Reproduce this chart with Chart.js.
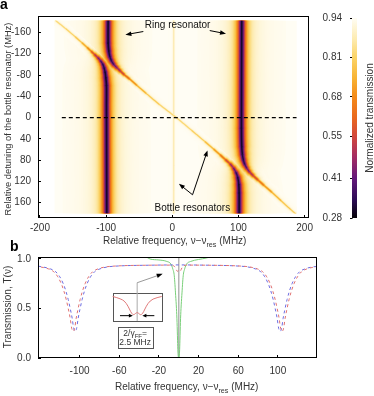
<!DOCTYPE html>
<html>
<head>
<meta charset="utf-8">
<script src="https://cdn.jsdelivr.net/npm/chart.js@4.4.1/dist/chart.umd.min.js"></script>
<style>
  body { margin: 0; background: #fff; }
  #fig { position: relative; width: 374px; height: 396px; overflow: hidden; }
  #fig canvas { position: absolute; }
</style>
</head>
<body>
<div id="fig">
  <canvas id="chartA" width="320" height="250" style="left:0;top:0"></canvas>
  <canvas id="chartC" width="56" height="240" style="left:318px;top:0"></canvas>
  <canvas id="chartB" width="320" height="160" style="left:0;top:236px"></canvas>
</div>
<script>
const FONT = '"Liberation Sans", Arial, sans-serif';
const TXT = '#333';

// ---------- panel a: map of transmission ----------
const xTicksA = [-200, -100, 0, 100, 200];
const yTicksA = [-160, -120, -80, -40, 0, 40, 80, 120, 160];
const cbTicks = [0.28, 0.41, 0.55, 0.68, 0.81, 0.94];
const baseT = 0.94;               // transmission far from any resonance
const heatX = [-178, 188];        // extent of the measured map (MHz)
const heatY = [-182, 180];

// resonance traces: [frequency, detuning, transmission at the dip, half width (MHz)]
const branchLL = [
  [-176, -182, 0.8, 0.8], [-160, -166, 0.79, 0.8], [-146, -151, 0.77, 0.9], [-136, -140, 0.72, 1.05],
  [-128, -131, 0.66, 1.3], [-122, -124, 0.58, 1.6], [-117, -118, 0.5, 2.1], [-112, -112, 0.42, 2.7],
  [-108, -106, 0.36, 3.4], [-105, -100, 0.32, 4.1], [-103, -93, 0.3, 4.8], [-101.5, -85, 0.29, 5.3],
  [-100.5, -75, 0.28, 5.8], [-99.5, -60, 0.28, 6], [-99.5, -20, 0.28, 6], [-99, 185, 0.28, 6]
];
const branchMid = [
  [-97, -185, 0.28, 6], [-97, -140, 0.28, 6], [-96, -125, 0.28, 5.8], [-94.5, -115, 0.29, 5.2],
  [-92, -107, 0.31, 4.5], [-88.5, -100, 0.35, 3.7], [-84, -94, 0.4, 2.9], [-79, -88, 0.46, 2.2],
  [-73, -81, 0.53, 1.6], [-65, -73, 0.6, 1.3], [-54, -61, 0.67, 1.05], [-40, -46, 0.73, 0.95],
  [-20, -25, 0.78, 0.8], [6, 0, 0.79, 0.8], [30, 25, 0.79, 0.8], [50, 46, 0.75, 0.95],
  [63, 60, 0.69, 1.1], [73, 71, 0.62, 1.4], [81, 80, 0.55, 1.8], [88, 88, 0.47, 2.4],
  [93, 96, 0.4, 3.1], [96.5, 104, 0.34, 3.9], [99, 113, 0.3, 4.9], [100.5, 126, 0.28, 5.6],
  [101, 142, 0.28, 6], [101, 185, 0.28, 6]
];
const branchUR = [
  [105, -185, 0.28, 6], [104.5, 20, 0.28, 6], [105, 55, 0.28, 5.9], [106, 70, 0.29, 5.4],
  [107.5, 80, 0.3, 4.9], [109.5, 88, 0.33, 4.2], [112.5, 95, 0.37, 3.5], [116.5, 102, 0.42, 2.8],
  [122, 109, 0.48, 2.2], [129, 117, 0.55, 1.7], [138, 127, 0.62, 1.4], [150, 140, 0.68, 1.1],
  [164, 156, 0.73, 0.95], [178, 172, 0.76, 0.9], [190, 185, 0.78, 0.8]
];
const lineZero = [[2, -185, 0.86, 0.7], [2, 185, 0.86, 0.7]];
const dashedX = [-167, 189];

// ---------- panel b: transmission spectra ----------
const xTicksB = [-100, -60, -20, 20, 60, 100];
const yTicksB = [0, 0.5, 1.0];
const blueX = [-142, -137.5, -129.5, -124, -120, -116.5, -114, -111.5, -109.5, -107.5, -106, -104.5, -103, -101.5, -99.5, -97.5, -95, -92.5, -89, -85, -79.5, -71.5, -59.5, -30, 0, 30, 57.3, 69.3, 77.3, 82.8, 86.8, 90.3, 92.8, 95.3, 97.3, 99.3, 100.8, 102.3, 103.8, 105.3, 107.3, 109.3, 111.8, 114.3, 117.8, 121.8, 127.3, 135.3, 139.5];
const blueT = [0.928, 0.92, 0.90, 0.87, 0.82, 0.75, 0.68, 0.59, 0.50, 0.40, 0.30, 0.27, 0.30, 0.40, 0.50, 0.59, 0.68, 0.75, 0.82, 0.87, 0.90, 0.92, 0.93, 0.937, 0.94, 0.937, 0.93, 0.92, 0.90, 0.87, 0.82, 0.75, 0.68, 0.59, 0.50, 0.40, 0.30, 0.27, 0.30, 0.40, 0.50, 0.59, 0.68, 0.75, 0.82, 0.87, 0.90, 0.92, 0.925];
const redX = [-142, -139.5, -131.5, -126, -122, -118.5, -116, -113.5, -111.5, -109.5, -108, -106.5, -105, -103.5, -101.5, -99.5, -97, -94.5, -91, -87, -81.5, -73.5, -61.5, -30, -8, -5, -3.5, -2.5, -1.8, -1.1, -0.5, 0, 0.5, 1.1, 1.8, 2.5, 3.5, 5, 8, 30, 59.3, 71.3, 79.3, 84.8, 88.8, 92.3, 94.8, 97.3, 99.3, 101.3, 102.8, 104.3, 105.8, 107.3, 109.3, 111.3, 113.8, 116.3, 119.8, 123.8, 129.3, 137.3, 139.5];
const redT = [0.927, 0.92, 0.90, 0.87, 0.82, 0.75, 0.68, 0.59, 0.50, 0.40, 0.30, 0.27, 0.30, 0.40, 0.50, 0.59, 0.68, 0.75, 0.82, 0.87, 0.90, 0.92, 0.93, 0.937, 0.938, 0.93, 0.915, 0.895, 0.88, 0.875, 0.881, 0.884, 0.881, 0.875, 0.88, 0.895, 0.915, 0.93, 0.938, 0.937, 0.93, 0.92, 0.90, 0.87, 0.82, 0.75, 0.68, 0.59, 0.50, 0.40, 0.30, 0.27, 0.30, 0.40, 0.50, 0.59, 0.68, 0.75, 0.82, 0.87, 0.90, 0.92, 0.926];
const greenX = [-34, -29, -20, -12, -8, -6, -4.5, -3.1, -2.3, -1.7, -1.2, -0.8, 0, 0.8, 1.2, 1.7, 2.3, 3.1, 4.5, 6, 8, 12, 20, 28, 34];
const greenT = [1.03, 1.0, 0.99, 0.975, 0.95, 0.9, 0.83, 0.63, 0.5, 0.36, 0.18, 0.06, 0, 0.06, 0.18, 0.36, 0.5, 0.63, 0.83, 0.9, 0.95, 0.975, 0.995, 1.01, 1.03];
const insetRangeX = [-8, 8];
const insetRangeT = [0.855, 0.95];

// colour map of the transmission scale
const cmapT = [0.28, 0.34, 0.41, 0.48, 0.55, 0.61, 0.68, 0.74, 0.81, 0.87, 0.94];
const cmapRGB = [[5, 2, 8], [45, 12, 85], [100, 25, 122], [163, 44, 100], [210, 72, 60], [233, 104, 31],
  [244, 139, 26], [248, 178, 50], [251, 212, 104], [253, 235, 176], [255, 253, 244]];
function tColor(t) {
  let i = 1;
  while (i < cmapT.length - 1 && t > cmapT[i]) i++;
  let k = (t - cmapT[i - 1]) / (cmapT[i] - cmapT[i - 1]);
  k = Math.max(0, Math.min(1, k));
  const a = cmapRGB[i - 1], b = cmapRGB[i];
  return 'rgb(' + a.map((v, j) => Math.round(v + (b[j] - v) * k)).join(',') + ')';
}

// helpers
function label(ctx, text, x, y, o = {}) {
  ctx.save();
  ctx.translate(x, y);
  if (o.rot) ctx.rotate(o.rot);
  ctx.font = (o.bold ? 'bold ' : '') + (o.size || 10) + 'px ' + FONT;
  ctx.fillStyle = o.color || TXT;
  ctx.textAlign = o.align || 'center';
  ctx.textBaseline = o.base || 'middle';
  ctx.fillText(text, 0, 0);
  ctx.restore();
}
function subText(ctx, parts, x, y, size, align) {
  ctx.save();
  ctx.fillStyle = TXT;
  ctx.textBaseline = 'alphabetic';
  ctx.textAlign = 'left';
  let w = 0;
  parts.forEach(p => { ctx.font = (p.sub ? size * 0.72 : size) + 'px ' + FONT; w += ctx.measureText(p.t).width; });
  let cx = align === 'center' ? x - w / 2 : x;
  parts.forEach(p => {
    ctx.font = (p.sub ? size * 0.72 : size) + 'px ' + FONT;
    ctx.fillText(p.t, cx, p.sub ? y + size * 0.28 : y);
    cx += ctx.measureText(p.t).width;
  });
  ctx.restore();
}
function arrow(ctx, x1, y1, x2, y2, color, len = 6, wid = 2.3) {
  const a = Math.atan2(y2 - y1, x2 - x1), c = Math.cos(a), s = Math.sin(a);
  ctx.save();
  ctx.strokeStyle = color; ctx.lineWidth = 1;
  ctx.beginPath(); ctx.moveTo(x1, y1); ctx.lineTo(x2 - c * len * 0.7, y2 - s * len * 0.7); ctx.stroke();
  ctx.fillStyle = '#000';
  ctx.beginPath();
  ctx.moveTo(x2, y2);
  ctx.lineTo(x2 - c * len - s * wid, y2 - s * len + c * wid);
  ctx.lineTo(x2 - c * len + s * wid, y2 - s * len - c * wid);
  ctx.closePath(); ctx.fill();
  ctx.restore();
}
function frame(ctx, area) {
  ctx.save();
  ctx.strokeStyle = '#000'; ctx.lineWidth = 1;
  ctx.strokeRect(Math.round(area.left) + 0.5, Math.round(area.top) + 0.5,
    Math.round(area.right - area.left) - 1, Math.round(area.bottom - area.top) - 1);
  ctx.restore();
}
const fixedTicks = arr => s => { s.ticks = arr.map(v => ({ value: v })); };

// ---------- chart a ----------
// each trace is drawn as nested bands, from the faint wings to the dark centre
const glowLevels = [];
for (let i = 0; i < 32; i++) glowLevels.push(0.008 * Math.pow(0.96 / 0.008, i / 31));
const curvesA = [branchLL, branchMid, branchUR, lineZero];
const datasetsA = [];
glowLevels.forEach((f, k) => {
  const half = Math.sqrt(1 / f - 1);
  curvesA.forEach(curve => {
    datasetsA.push({
      data: curve.map(p => ({ x: p[0], y: p[1] })),
      showLine: true, pointRadius: 0, tension: 0.35,
      borderCapStyle: 'round', borderJoinStyle: 'round',
      borderWidth: 1, borderColor: tColor(baseT),
      order: glowLevels.length - k + 1,
      segment: {
        borderColor: c => {
          const t = (curve[c.p0DataIndex][2] + curve[c.p1DataIndex][2]) / 2;
          return tColor(baseT - f * (baseT - t));
        },
        borderWidth: c => {
          const sx = c.chart.scales.x;
          const ppm = Math.abs(sx.getPixelForValue(1) - sx.getPixelForValue(0));
          const g = (curve[c.p0DataIndex][3] + curve[c.p1DataIndex][3]) / 2;
          return Math.max(0.35, 2 * half * g * ppm);
        }
      }
    });
  });
});
datasetsA.push({
  data: dashedX.map(x => ({ x, y: 0 })), showLine: true, pointRadius: 0,
  borderColor: '#000', borderWidth: 1.3, borderDash: [4, 3], order: 0
});

const panelA = {
  id: 'panelA',
  beforeDatasetsDraw(chart) {
    const { ctx, scales: { x, y } } = chart;
    const l = x.getPixelForValue(heatX[0]), r = x.getPixelForValue(heatX[1]);
    const t = y.getPixelForValue(heatY[0]), b = y.getPixelForValue(heatY[1]);
    ctx.save();
    ctx.fillStyle = tColor(baseT);
    ctx.fillRect(l, t, r - l, b - t);
    ctx.beginPath(); ctx.rect(l, t, r - l, b - t); ctx.clip();
  },
  afterDatasetsDraw(chart) {
    const { ctx, chartArea, scales: { x, y } } = chart;
    ctx.restore();
    frame(ctx, chartArea);
    const P = (a, b) => [x.getPixelForValue(a), y.getPixelForValue(b)];
    // annotations
    let p = P(-41.5, -172.8);
    label(ctx, 'Ring resonator', p[0], p[1], { align: 'left', color: '#111' });
    [[-43.8, -161.8, -70.9, -155.8], [56.6, -163.6, 81.2, -157.6]].forEach(a => {
      const s = P(a[0], a[1]), e = P(a[2], a[3]);
      arrow(ctx, s[0], s[1], e[0], e[1], '#000');
    });
    p = P(-26.8, 170);
    label(ctx, 'Bottle resonators', p[0], p[1], { align: 'left', color: '#111' });
    [[30.6, 145.3, 10, 124.7], [30.6, 145.3, 53.2, 61.8]].forEach(a => {
      const s = P(a[0], a[1]), e = P(a[2], a[3]);
      arrow(ctx, s[0], s[1], e[0], e[1], '#000');
    });
    // titles
    subText(ctx, [{ t: 'Relative frequency, ν−ν' }, { t: 'res', sub: true }, { t: ' (MHz)' }], 103, 244, 10);
    label(ctx, 'Relative detuning of the bottle resonator (MHz)', 8, 119, { rot: -Math.PI / 2, size: 9.3 });
    label(ctx, 'a', 0, 9, { bold: true, size: 14, align: 'left', base: 'alphabetic', color: '#000' });
  }
};

new Chart(document.getElementById('chartA'), {
  type: 'scatter',
  data: { datasets: datasetsA },
  options: {
    responsive: false, animation: false, devicePixelRatio: 1, events: [],
    layout: { padding: { top: 10, right: 3, left: 0, bottom: 0 } },
    plugins: { legend: { display: false }, tooltip: { enabled: false } },
    scales: {
      x: {
        type: 'linear', min: -203, max: 207,
        afterFit: s => { s.height = 32; },
        afterBuildTicks: fixedTicks(xTicksA),
        grid: { drawOnChartArea: false, tickLength: -3, color: '#000' },
        border: { display: false },
        ticks: { padding: 7, color: TXT, font: { family: FONT, size: 10 } }
      },
      y: {
        type: 'linear', reverse: true, min: -191, max: 189,
        afterFit: s => { s.width = 38; },
        afterBuildTicks: fixedTicks(yTicksA),
        grid: { drawOnChartArea: false, tickLength: -3, color: '#000' },
        border: { display: false },
        ticks: { padding: 10, color: TXT, font: { family: FONT, size: 10 } }
      }
    }
  },
  plugins: [panelA]
});

// ---------- colour bar ----------
new Chart(document.getElementById('chartC'), {
  type: 'bar',
  data: {
    labels: [''],
    datasets: [{
      data: [[cbTicks[0], cbTicks[cbTicks.length - 1]]],
      barPercentage: 1, categoryPercentage: 1, borderWidth: 0,
      backgroundColor: c => {
        const { ctx, chartArea, scales } = c.chart;
        if (!chartArea) return '#fff';
        const y0 = scales.y.getPixelForValue(cmapT[0]);
        const y1 = scales.y.getPixelForValue(cmapT[cmapT.length - 1]);
        const g = ctx.createLinearGradient(0, y0, 0, y1);
        cmapT.forEach((t, i) => g.addColorStop((t - cmapT[0]) / (cmapT[cmapT.length - 1] - cmapT[0]), 'rgb(' + cmapRGB[i].join(',') + ')'));
        return g;
      }
    }]
  },
  options: {
    responsive: false, animation: false, devicePixelRatio: 1, events: [],
    layout: { padding: { top: 18, bottom: 22, right: 17, left: 0 } },
    plugins: { legend: { display: false }, tooltip: { enabled: false } },
    scales: {
      x: { display: false },
      y: {
        min: 0.28, max: 0.94,
        afterFit: s => { s.width = 34; },
        afterBuildTicks: fixedTicks(cbTicks),
        grid: { drawOnChartArea: false, tickLength: 2, color: '#000' },
        border: { color: '#555', width: 0.8 },
        ticks: { padding: 8, color: TXT, font: { family: FONT, size: 10 }, callback: v => v.toFixed(2) }
      }
    }
  },
  plugins: [{
    id: 'cbTitle',
    afterDraw(chart) {
      label(chart.ctx, 'Normalized transmission', 52, 118, { rot: -Math.PI / 2 });
    }
  }]
});

// ---------- chart b ----------
const panelB = {
  id: 'panelB',
  afterDatasetsDraw(chart) {
    const { ctx, chartArea, scales: { x, y } } = chart;
    frame(ctx, chartArea);
    const P = (a, b) => [x.getPixelForValue(a), y.getPixelForValue(b)];

    // pointer from the inset to the split dip
    const top = P(-42, 0.76), tip = P(-16.2, 0.85);
    arrow(ctx, top[0], top[1], tip[0], tip[1], '#999', 6, 2.2);

    // inset with the magnified doublet
    const b0 = P(-66.7, 0.657), b1 = P(-17.2, 0.374);
    ctx.save();
    ctx.fillStyle = '#fff';
    ctx.fillRect(b0[0], b0[1], b1[0] - b0[0], b1[1] - b0[1]);
    ctx.strokeStyle = '#555'; ctx.lineWidth = 1;
    ctx.strokeRect(Math.round(b0[0]) + 0.5, Math.round(b0[1]) + 0.5, Math.round(b1[0] - b0[0]), Math.round(b1[1] - b0[1]));
    const ix = v => b0[0] + (v - insetRangeX[0]) / (insetRangeX[1] - insetRangeX[0]) * (b1[0] - b0[0]);
    const iy = v => b1[1] - (v - insetRangeT[0]) / (insetRangeT[1] - insetRangeT[0]) * (b1[1] - b0[1]);
    ctx.strokeStyle = '#aaa';
    ctx.beginPath(); ctx.moveTo(ix(0), top[1]); ctx.lineTo(ix(0), b1[1]); ctx.stroke();
    const pts = [];
    redX.forEach((v, i) => { if (v >= insetRangeX[0] && v <= insetRangeX[1]) pts.push([ix(v), iy(redT[i])]); });
    ctx.strokeStyle = '#e07a7a'; ctx.lineWidth = 1;
    ctx.beginPath(); ctx.moveTo(pts[0][0], pts[0][1]);
    for (let i = 1; i < pts.length - 1; i++) {
      const mx = (pts[i][0] + pts[i + 1][0]) / 2, my = (pts[i][1] + pts[i + 1][1]) / 2;
      ctx.quadraticCurveTo(pts[i][0], pts[i][1], mx, my);
    }
    ctx.lineTo(pts[pts.length - 1][0], pts[pts.length - 1][1]);
    ctx.stroke();
    ctx.restore();
    arrow(ctx, ix(-5.6), iy(0.873), ix(-1.4), iy(0.873), '#000', 4, 1.8);
    arrow(ctx, ix(5.6), iy(0.873), ix(1.7), iy(0.873), '#000', 4, 1.8);

    // splitting value box
    const f0 = P(-61.6, 0.313), f1 = P(-26.3, 0.101);
    ctx.save();
    ctx.fillStyle = '#fff';
    ctx.fillRect(f0[0], f0[1], f1[0] - f0[0], f1[1] - f0[1]);
    ctx.strokeStyle = '#555';
    ctx.strokeRect(Math.round(f0[0]) + 0.5, Math.round(f0[1]) + 0.5, Math.round(f1[0] - f0[0]), Math.round(f1[1] - f0[1]));
    ctx.restore();
    const cx = (f0[0] + f1[0]) / 2;
    subText(ctx, [{ t: '2/γ' }, { t: 'FF', sub: true }, { t: '=' }], cx, f0[1] + 8.5, 8.5, 'center');
    subText(ctx, [{ t: '2.5 MHz' }], cx, f0[1] + 18, 8.5, 'center');

    // titles
    subText(ctx, [{ t: 'Relative frequency, ν−ν' }, { t: 'res', sub: true }, { t: ' (MHz)' }], 115, 154, 10);
    label(ctx, 'Transmission, T(ν)', 8, 71, { rot: -Math.PI / 2 });
    label(ctx, 'b', 10, 14.5, { bold: true, size: 14, align: 'left', base: 'alphabetic', color: '#000' });
  }
};

const toPts = (xs, ys) => xs.map((v, i) => ({ x: v, y: ys[i] }));
new Chart(document.getElementById('chartB'), {
  type: 'scatter',
  data: {
    datasets: [
      { data: [{ x: 0, y: 0 }, { x: 0, y: 1.02 }], showLine: true, pointRadius: 0, borderColor: '#b4b4b4', borderWidth: 1.5, order: 4 },
      { data: toPts(greenX, greenT), showLine: true, pointRadius: 0, borderColor: '#79cf79', borderWidth: 1, cubicInterpolationMode: 'monotone', order: 3 },
      { data: toPts(blueX, blueT), showLine: true, pointRadius: 0, borderColor: '#6c6ce2', borderWidth: 1, borderDash: [3, 3], cubicInterpolationMode: 'monotone', order: 2 },
      { data: toPts(redX, redT), showLine: true, pointRadius: 0, borderColor: '#e07070', borderWidth: 1, borderDash: [3, 3], borderDashOffset: 3, cubicInterpolationMode: 'monotone', order: 1 }
    ]
  },
  options: {
    responsive: false, animation: false, devicePixelRatio: 1, events: [],
    layout: { padding: { top: 21, right: 3, left: 0, bottom: 0 } },
    plugins: { legend: { display: false }, tooltip: { enabled: false } },
    scales: {
      x: {
        type: 'linear', min: -142, max: 139.5,
        afterFit: s => { s.height = 38; },
        afterBuildTicks: fixedTicks(xTicksB),
        grid: { drawOnChartArea: false, tickLength: -3, color: '#000' },
        border: { display: false },
        ticks: { padding: 10.5, color: TXT, font: { family: FONT, size: 10 } }
      },
      y: {
        type: 'linear', min: 0, max: 1.02,
        afterFit: s => { s.width = 38; },
        afterBuildTicks: fixedTicks(yTicksB),
        grid: { drawOnChartArea: false, tickLength: -3, color: '#000' },
        border: { display: false },
        ticks: { padding: 10, color: TXT, font: { family: FONT, size: 10 }, callback: v => v.toFixed(1) }
      }
    }
  },
  plugins: [panelB]
});
</script>
</body>
</html>
